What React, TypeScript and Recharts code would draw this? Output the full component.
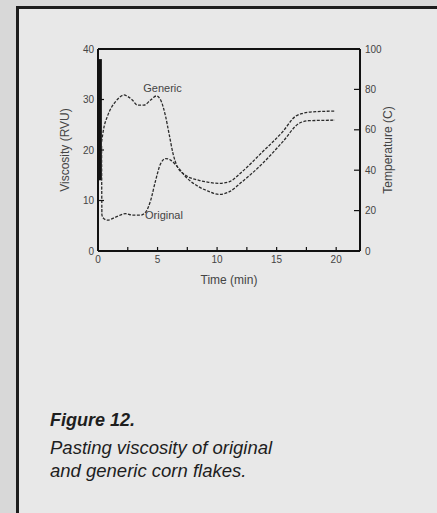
import React from "react";
import { LineChart, Line, XAxis, YAxis, ReferenceDot } from "recharts";

// time (min) / viscosity (RVU)
const genericTime = [0.3, 0.5, 0.78, 1.1, 1.48, 1.8, 2.18, 2.5, 2.88, 3.3, 3.86, 4.42, 4.9, 5.26, 5.68, 5.96, 6.3, 6.66, 7.36, 8.48, 9.3, 10.15, 11.0, 12.1, 13.8, 15.5, 16.6, 17.1, 18.3, 19.9];
const genericVisc = [21.6, 24.5, 26.6, 28.3, 29.6, 30.4, 30.9, 30.6, 29.9, 28.9, 28.9, 29.9, 30.7, 29.9, 26.6, 23.3, 19.3, 16.7, 15.0, 14.0, 13.6, 13.4, 13.7, 15.7, 19.6, 23.6, 26.7, 27.2, 27.6, 27.7];

const originalTime = [0.3, 0.33, 0.5, 0.78, 1.48, 2.3, 2.88, 3.58, 4.0, 4.42, 4.84, 5.26, 5.68, 6.1, 6.66, 7.36, 8.48, 9.3, 10.15, 11.0, 12.1, 13.8, 15.5, 16.9, 17.7, 19.9];
const originalVisc = [20.8, 7.1, 6.4, 6.1, 6.7, 7.4, 7.1, 7.1, 7.7, 10.0, 14.0, 17.3, 18.3, 18.0, 16.7, 14.7, 12.7, 11.8, 11.2, 11.7, 13.7, 17.3, 21.6, 25.3, 25.8, 25.9];

// initial spike at start of run
const spikeTime = [0.2, 0.2];
const spikeVisc = [38, 14];

const xTicks = [0, 2.5, 5, 7.5, 10, 12.5, 15, 17.5, 20];
const viscTicks = [0, 10, 20, 30, 40];
const tempTicks = [0, 20, 40, 60, 80, 100];

const seriesLabels = ["Generic", "Original"];
const labelTime = [3.8, 3.95];
const labelVisc = [32.3, 7.1];

const toRows = (t: number[], v: number[]) => t.map((x, i) => ({ t: x, v: v[i] }));

const ink = "#2b2b2b";
const textGray = "#444";
const font = "Arial, 'Liberation Sans', sans-serif";

export default function App() {
  const generic = toRows(genericTime, genericVisc);
  const original = toRows(originalTime, originalVisc);
  const spike = toRows(spikeTime, spikeVisc);
  const tickStyle = { fontSize: 10, fill: textGray, fontFamily: font };

  return (
    <div style={{ position: "absolute", left: 0, top: 0, width: 437, height: 513, background: "#d8d8d8", overflow: "hidden" }}>
      <div style={{ position: "absolute", left: 16, top: 6, width: 440, height: 520, border: "3px solid #1c1c1c", background: "#e8e8e8", boxSizing: "border-box" }} />
      <div style={{ position: "absolute", left: 0, top: 0 }}>
        <LineChart width={437} height={300} margin={{ top: 48, right: 21, bottom: 3, left: 32 }}>
          <XAxis
            dataKey="t"
            type="number"
            domain={[0, 22]}
            allowDataOverflow
            ticks={xTicks}
            tickFormatter={(v: number) => (v % 5 === 0 ? String(v) : "")}
            height={46}
            tickSize={-4}
            tickMargin={9}
            tick={tickStyle}
            axisLine={{ stroke: "#111", strokeWidth: 2 }}
            tickLine={{ stroke: "#111", strokeWidth: 1.2 }}
            label={{ value: "Time (min)", position: "center", dy: 6, style: { fontSize: 12, fill: textGray, fontFamily: font } }}
          />
          <XAxis
            xAxisId="top"
            dataKey="t"
            orientation="top"
            type="number"
            domain={[0, 22]}
            allowDataOverflow
            ticks={xTicks}
            height={1}
            tickSize={-4}
            tick={false}
            axisLine={{ stroke: "#111", strokeWidth: 2 }}
            tickLine={{ stroke: "#111", strokeWidth: 1.2 }}
          />
          <YAxis
            type="number"
            domain={[0, 40]}
            allowDataOverflow
            ticks={viscTicks}
            width={66}
            tickSize={-6}
            tickMargin={10}
            tick={tickStyle}
            axisLine={{ stroke: "#111", strokeWidth: 2 }}
            tickLine={{ stroke: "#111", strokeWidth: 1.2 }}
            label={{ value: "Viscosity (RVU)", angle: -90, position: "center", style: { fontSize: 12, fill: textGray, fontFamily: font } }}
          />
          <YAxis
            yAxisId="temp"
            orientation="right"
            type="number"
            domain={[0, 100]}
            allowDataOverflow
            ticks={tempTicks}
            width={56}
            tickSize={-6}
            tickMargin={11}
            tick={tickStyle}
            axisLine={{ stroke: "#111", strokeWidth: 2 }}
            tickLine={{ stroke: "#111", strokeWidth: 1.2 }}
            label={{ value: "Temperature (C)", angle: -90, position: "center", style: { fontSize: 12, fill: textGray, fontFamily: font } }}
          />
          <Line xAxisId="top" data={spike} dataKey="v" stroke="#111" strokeWidth={3} dot={false} isAnimationActive={false} />
          <Line data={generic} dataKey="v" type="monotone" stroke={ink} strokeWidth={1.3} strokeDasharray="3 1.5" dot={false} isAnimationActive={false} />
          <Line data={original} dataKey="v" type="monotone" stroke={ink} strokeWidth={1.3} strokeDasharray="3 1.5" dot={false} isAnimationActive={false} />
          {seriesLabels.map((s, i) => (
            <ReferenceDot
              key={s}
              x={labelTime[i]}
              y={labelVisc[i]}
              r={0}
              stroke="none"
              fill="none"
              label={{ value: s, position: "right", offset: 0, style: { fontSize: 11, fill: textGray, fontFamily: font } }}
            />
          ))}
        </LineChart>
      </div>
      <svg width={437} height={513} style={{ position: "absolute", left: 0, top: 0 }}>
        <g fontFamily={font} fontStyle="italic" fill="#1e1e1e">
          <text x={50} y={426} fontSize={18} fontWeight="bold">Figure 12.</text>
          <text x={50} y={454} fontSize={18.5}>Pasting viscosity of original</text>
          <text x={50} y={477} fontSize={18.5}>and generic corn flakes.</text>
        </g>
      </svg>
    </div>
  );
}
